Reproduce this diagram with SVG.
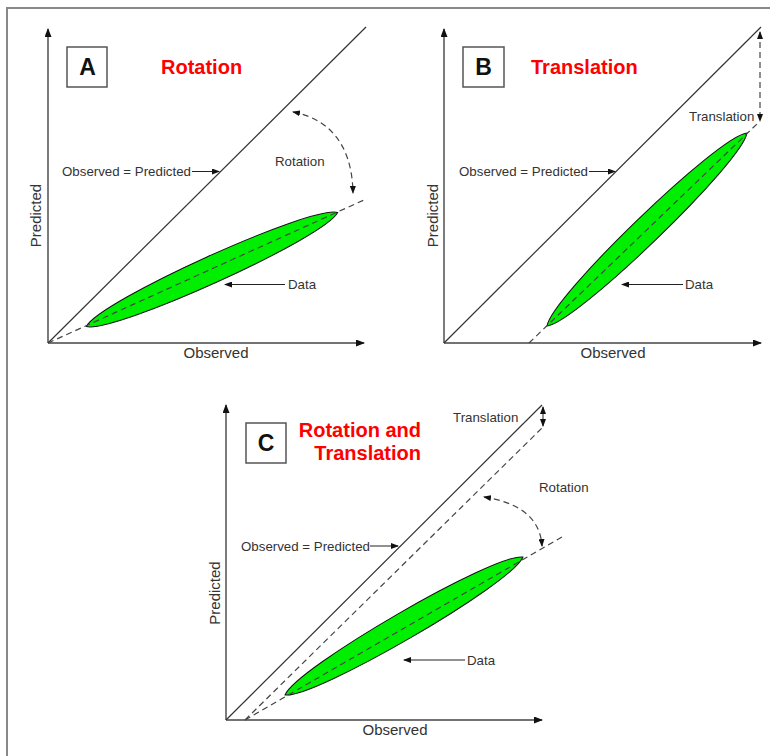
<svg xmlns="http://www.w3.org/2000/svg" width="770" height="756" viewBox="0 0 770 756">
<defs>
<style>
.axis{stroke:#444;stroke-width:1.4;fill:none}
.diag{stroke:#333;stroke-width:1.2;fill:none}
.dash{stroke:#444;stroke-width:1.2;fill:none;stroke-dasharray:6 4}
.ptr{stroke:#222;stroke-width:1;fill:none}
.lens{fill:#00ee00;stroke:#111;stroke-width:1}
.box{fill:#fff;stroke:#555;stroke-width:1.5}
.lbl{font-family:"Liberation Sans",Arial,sans-serif;font-size:13.3px;fill:#333}
.ax{font-family:"Liberation Sans",Arial,sans-serif;font-size:15px;fill:#333}
.ttl{font-family:"Liberation Sans",Arial,sans-serif;font-size:20px;font-weight:bold;fill:#ff0000}
.let{font-family:"Liberation Sans",Arial,sans-serif;font-size:23px;font-weight:bold;fill:#111;text-anchor:middle}
</style>
<marker id="ah" markerUnits="userSpaceOnUse" markerWidth="9" markerHeight="7" refX="8" refY="3.5" orient="auto-start-reverse" viewBox="0 0 9 7">
<path d="M0,0 L9,3.5 L0,7 z" fill="#111"/>
</marker>
<marker id="ahs" markerUnits="userSpaceOnUse" markerWidth="8" markerHeight="6" refX="7" refY="3" orient="auto-start-reverse" viewBox="0 0 8 6">
<path d="M0,0 L8,3 L0,6 z" fill="#111"/>
</marker>
</defs>
<rect width="770" height="756" fill="#fff"/>
<path d="M7,756 L7,8 L770,8" fill="none" stroke="#888" stroke-width="2"/>

<!-- Panel A -->
<g id="panelA">
<path class="axis" d="M48,343 L48,29" marker-end="url(#ah)"/>
<path class="axis" d="M48,343 L364,343" marker-end="url(#ah)"/>
<path class="diag" d="M48,343 L366,27"/>
<g transform="translate(212,269.5) rotate(-24.4)">
<path class="lens" d="M-138,0 C-115,-18 115,-18 138,0 C115,18 -115,18 -138,0 Z"/>
</g>
<path class="dash" d="M48,343 L364,200"/>
<rect class="box" x="67" y="47" width="40" height="40"/>
<text class="let" x="87.5" y="75">A</text>
<text class="ttl" x="161" y="74">Rotation</text>
<text class="lbl" x="62" y="176">Observed = Predicted</text>
<text class="lbl" x="275" y="166">Rotation</text>
<text class="lbl" x="288" y="289">Data</text>
<text class="ax" x="216" y="358" text-anchor="middle">Observed</text>
<text class="ax" transform="translate(41,215.5) rotate(-90)" text-anchor="middle">Predicted</text>
</g>

<!-- Panel B -->
<g id="panelB">
<path class="axis" d="M444,343 L444,29" marker-end="url(#ah)"/>
<path class="axis" d="M444,343 L761,343" marker-end="url(#ah)"/>
<path class="diag" d="M444,343 L761,27"/>
<g transform="translate(647,229.5) rotate(-44)">
<path class="lens" d="M-139,0 C-116,-18 116,-18 139,0 C116,18 -116,18 -139,0 Z"/>
</g>
<path class="dash" d="M529,343 L758,123"/>
<rect class="box" x="463" y="47" width="41" height="40"/>
<text class="let" x="483.5" y="75">B</text>
<text class="ttl" x="531" y="74">Translation</text>
<text class="lbl" x="459" y="176">Observed = Predicted</text>
<text class="lbl" x="689" y="121">Translation</text>
<text class="lbl" x="685" y="289">Data</text>
<text class="ax" x="613" y="358" text-anchor="middle">Observed</text>
<text class="ax" transform="translate(438,215.5) rotate(-90)" text-anchor="middle">Predicted</text>
</g>

<!-- Panel C -->
<g id="panelC">
<path class="axis" d="M226,720 L226,405" marker-end="url(#ah)"/>
<path class="axis" d="M226,720 L542,720" marker-end="url(#ah)"/>
<path class="diag" d="M226,720 L542,405"/>
<path class="dash" d="M245,720 L543,427"/>
<g transform="translate(404,626) rotate(-30.1)">
<path class="lens" d="M-137.5,0 C-115,-18 115,-18 137.5,0 C115,18 -115,18 -137.5,0 Z"/>
</g>
<path class="dash" d="M245,720 L562,537"/>
<rect class="box" x="246" y="423" width="40" height="40"/>
<text class="let" x="266" y="451">C</text>
<text class="ttl" x="421" y="437" text-anchor="end">Rotation and</text>
<text class="ttl" x="421" y="460" text-anchor="end">Translation</text>
<text class="lbl" x="453" y="422">Translation</text>
<text class="lbl" x="539" y="492">Rotation</text>
<text class="lbl" x="241" y="551">Observed = Predicted</text>
<text class="lbl" x="467" y="665">Data</text>
<text class="ax" x="395" y="735" text-anchor="middle">Observed</text>
<text class="ax" transform="translate(220,593) rotate(-90)" text-anchor="middle">Predicted</text>
</g>

<!-- Connectors -->
<g id="connectors">
<path class="ptr" d="M192,171.5 L219,171.5" marker-end="url(#ahs)"/>
<path class="ptr" d="M285,284.5 L225,284.5" marker-end="url(#ahs)"/>
<path class="dash" d="M293,112 C325,118 352,140 353,193" marker-start="url(#ahs)" marker-end="url(#ahs)"/>

<path class="ptr" d="M589,171.5 L615,171.5" marker-end="url(#ahs)"/>
<path class="ptr" d="M683,284.5 L622,284.5" marker-end="url(#ahs)"/>
<path class="dash" d="M760,32 L760,121" marker-start="url(#ahs)" marker-end="url(#ahs)"/>

<path class="ptr" d="M370,546 L398,546" marker-end="url(#ahs)"/>
<path class="ptr" d="M465,660 L404,660" marker-end="url(#ahs)"/>
<path class="dash" d="M484,497 C515,502 540,515 542,546" marker-start="url(#ahs)" marker-end="url(#ahs)"/>
<path class="ptr" d="M543,407 L543,426" marker-start="url(#ahs)" marker-end="url(#ahs)"/>
</g>
</svg>
